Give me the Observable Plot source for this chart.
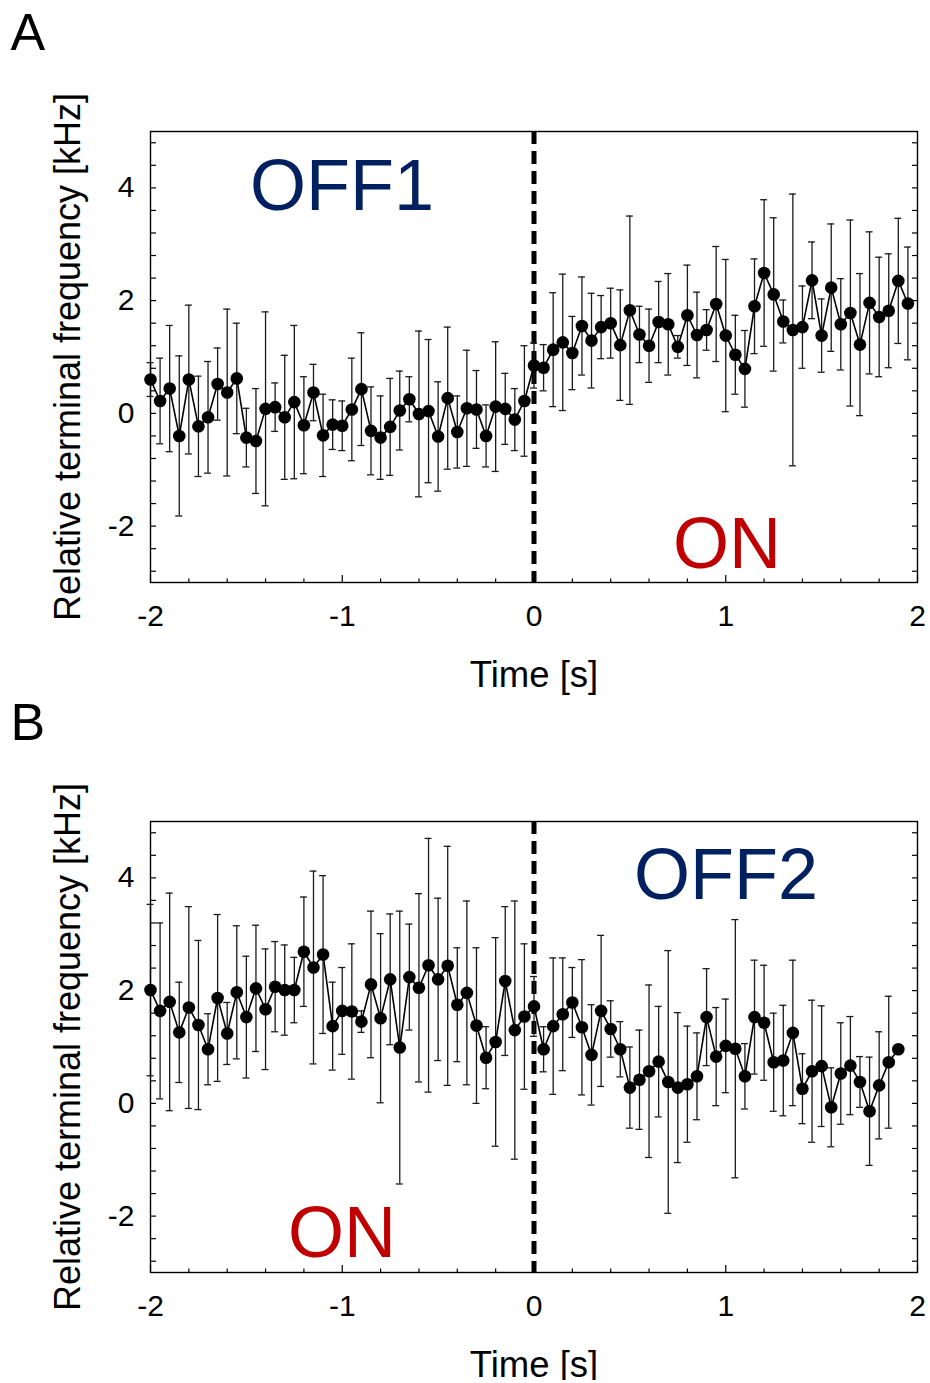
<!DOCTYPE html>
<html><head><meta charset="utf-8">
<script src="https://cdn.jsdelivr.net/npm/d3@7"></script>
<script src="https://cdn.jsdelivr.net/npm/@observablehq/plot@0.6"></script>
<style>
body{margin:0;background:#fff;font-family:"Liberation Sans",Arial,sans-serif;}
#chart svg{display:block;overflow:visible}
</style></head><body><div id="chart"></div>
<script>
// Sample times [s]
const times = [-2.00,-1.95,-1.90,-1.85,-1.80,-1.75,-1.70,-1.65,-1.60,-1.55,
  -1.50,-1.45,-1.40,-1.35,-1.30,-1.25,-1.20,-1.15,-1.10,-1.05,
  -1.00,-0.95,-0.90,-0.85,-0.80,-0.75,-0.70,-0.65,-0.60,-0.55,
  -0.50,-0.45,-0.40,-0.35,-0.30,-0.25,-0.20,-0.15,-0.10,-0.05,
  0.00,0.05,0.10,0.15,0.20,0.25,0.30,0.35,0.40,0.45,
  0.50,0.55,0.60,0.65,0.70,0.75,0.80,0.85,0.90,0.95,
  1.00,1.05,1.10,1.15,1.20,1.25,1.30,1.35,1.40,1.45,
  1.50,1.55,1.60,1.65,1.70,1.75,1.80,1.85,1.90,1.95];

// Panel A: relative terminal frequency [kHz] and error
const freqA = [0.60,0.22,0.44,-0.40,0.60,-0.23,-0.07,0.52,0.37,0.62,
  -0.43,-0.49,0.08,0.11,-0.07,0.20,-0.21,0.37,-0.39,-0.20,
  -0.22,0.07,0.43,-0.31,-0.43,-0.24,0.05,0.25,-0.01,0.04,
  -0.41,0.27,-0.33,0.09,0.07,-0.40,0.12,0.08,-0.11,0.22,
  0.85,0.81,1.13,1.26,1.07,1.55,1.29,1.53,1.60,1.21,
  1.83,1.40,1.20,1.62,1.58,1.18,1.74,1.39,1.48,1.94,
  1.38,1.04,0.79,1.90,2.49,2.11,1.63,1.48,1.53,2.36,
  1.38,2.23,1.58,1.78,1.22,1.96,1.71,1.82,2.35,1.95];
const errA = [0.30,0.76,1.12,1.42,1.32,0.89,0.99,0.64,1.48,0.98,
  0.52,0.93,1.72,0.43,1.10,1.36,0.86,0.50,0.73,0.44,
  0.44,0.91,1.00,0.78,0.74,0.86,0.70,0.40,1.47,1.27,
  0.97,1.26,0.64,1.03,0.69,0.55,1.15,0.63,0.55,0.98,
  0.40,0.41,1.01,1.21,0.65,0.87,0.84,0.56,0.62,0.98,
  1.67,0.50,0.65,0.72,0.90,0.20,0.89,0.76,0.36,1.02,
  1.35,0.70,0.68,0.84,1.30,1.36,0.38,2.41,0.73,0.68,
  0.65,1.13,0.81,1.65,1.26,1.26,1.06,1.01,1.11,1.00];

// Panel B
const freqB = [2.01,1.64,1.80,1.26,1.70,1.39,0.96,1.87,1.24,1.97,
  1.53,2.04,1.67,2.07,2.01,2.01,2.69,2.41,2.64,1.37,
  1.64,1.63,1.45,2.11,1.51,2.20,0.99,2.24,2.05,2.45,
  2.20,2.44,1.75,1.96,1.38,0.81,1.09,2.17,1.30,1.54,
  1.72,0.96,1.37,1.58,1.79,1.35,0.86,1.64,1.32,0.96,
  0.28,0.42,0.57,0.74,0.38,0.28,0.34,0.48,1.53,0.83,
  1.02,0.97,0.48,1.53,1.43,0.73,0.76,1.25,0.26,0.57,
  0.66,-0.07,0.53,0.67,0.38,-0.14,0.32,0.73,0.96];
const errB = [1.52,1.56,1.93,0.89,1.79,1.50,0.63,1.48,0.55,1.18,
  1.08,1.12,1.07,0.80,0.80,0.58,0.97,1.71,1.40,0.78,
  0.77,1.20,0.19,1.30,1.50,1.16,2.42,0.94,1.67,2.25,
  1.44,2.12,1.01,1.63,1.38,0.55,1.85,1.32,2.29,1.29,
  0.53,0.40,1.21,1.00,0.62,1.20,0.89,1.34,0.50,0.49,
  0.72,0.88,1.53,0.98,2.33,1.33,1.03,0.77,0.86,0.87,
  0.83,2.29,0.58,1.01,1.02,0.87,0.98,1.29,0.62,1.26,
  1.07,0.70,0.90,0.87,0.45,0.96,0.95,1.17,0];

// Axis ticks
const xTicks = [-2,-1,0,1,2];
const xMinor = [-1.8,-1.6,-1.4,-1.2,-0.8,-0.6,-0.4,-0.2,0.2,0.4,0.6,0.8,1.2,1.4,1.6,1.8];
const yTicks = [-2,0,2,4];
const yMinor = [-2.8,-2.4,-2,-1.6,-1.2,-0.8,-0.4,0,0.4,0.8,1.2,1.6,2,2.4,2.8,3.2,3.6,4,4.4,4.8];

// Annotations
const labelsA = [{text:"OFF1", t:-1.481, v:3.61, color:"#002060"}, {text:"ON", t:0.725, v:-2.75, color:"#C00000"}];
const labelsB = [{text:"OFF2", t:0.522, v:3.63, color:"#002060"}, {text:"ON", t:-1.283, v:-2.73, color:"#C00000"}];

const FONT = "'Liberation Sans', Arial, sans-serif";
const blank = () => "";

function panel(letter, freq, err, labels) {
  const data = freq.map((v, i) => ({t: times[i], v, e: err[i]}));
  const withErr = data.filter(d => d.e > 0);
  return Plot.plot({
    width: 930, height: 690,
    marginTop: 131, marginBottom: 108, marginLeft: 150, marginRight: 13,
    x: {domain: [-2, 2]},
    y: {domain: [-3, 5]},
    style: {fontFamily: FONT, background: "white", color: "black", overflow: "visible"},
    marks: [
      Plot.ruleX([0], {stroke: "black", strokeWidth: 5, strokeDasharray: "13,7"}),
      Plot.ruleX(withErr, {x: "t", y1: d => d.v - d.e, y2: d => d.v + d.e, stroke: "#1a1a1a", strokeWidth: 1.3}),
      Plot.ruleY(withErr, {y: d => d.v + d.e, x1: "t", x2: "t", insetLeft: -3.5, insetRight: -3.5, stroke: "#1a1a1a", strokeWidth: 1.3}),
      Plot.ruleY(withErr, {y: d => d.v - d.e, x1: "t", x2: "t", insetLeft: -3.5, insetRight: -3.5, stroke: "#1a1a1a", strokeWidth: 1.3}),
      Plot.line(data, {x: "t", y: "v", stroke: "black", strokeWidth: 1.6}),
      Plot.dot(data, {x: "t", y: "v", r: 6.3, fill: "black", stroke: "none"}),
      Plot.frame({stroke: "black", strokeWidth: 1.4}),
      Plot.axisY(yMinor, {anchor: "left", tickSize: -6, strokeWidth: 1.2, tickFormat: blank, label: null}),
      Plot.axisY(yMinor, {anchor: "right", tickSize: -6, strokeWidth: 1.2, tickFormat: blank, label: null}),
      Plot.axisX(xMinor, {anchor: "bottom", tickSize: -3.5, strokeWidth: 1.2, tickFormat: blank, label: null}),
      Plot.axisX(xTicks, {anchor: "bottom", tickSize: -7, strokeWidth: 1.2, tickFormat: blank, label: null}),
      Plot.axisY(yTicks, {anchor: "left", tickSize: 0, tickPadding: 16, fontSize: 30, label: null, tickFormat: d => String(d)}),
      Plot.axisX(xTicks, {anchor: "bottom", tickSize: 0, tickPadding: 22, fontSize: 30, label: null, tickFormat: d => String(d)}),
      Plot.text(["Time [s]"], {frameAnchor: "bottom", dy: 104, lineAnchor: "bottom", textAnchor: "middle", fontSize: 36.5, fill: "black"}),
      Plot.text(["Relative terminal frequency [kHz]"], {frameAnchor: "left", dx: -82, rotate: -90, textAnchor: "middle", lineAnchor: "middle", fontSize: 36, fill: "black"}),
      Plot.text([letter], {frameAnchor: "top-left", dx: -140, dy: -82, textAnchor: "start", lineAnchor: "bottom", fontSize: 52, fill: "black"}),
      Plot.text(labels, {x: "t", y: "v", text: "text", fill: "color", textAnchor: "start", lineAnchor: "bottom", fontSize: 72})
    ]
  });
}

const root = document.getElementById("chart");
root.appendChild(panel("A", freqA, errA, labelsA));
root.appendChild(panel("B", freqB, errB, labelsB));
</script></body></html>
